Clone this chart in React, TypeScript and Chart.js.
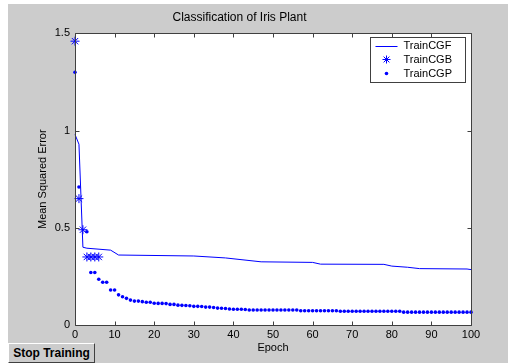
import React, { useEffect, useRef } from "react";
import { Chart, registerables } from "chart.js";

Chart.register(...registerables);

const chartTitle = "Classification of Iris Plant";
const xTitle = "Epoch";
const yTitle = "Mean Squared Error";

const seriesLabels = ["TrainCGF", "TrainCGB", "TrainCGP"];

// TrainCGF: line breakpoints (epoch, mse)
const epochsCGF = [0, 1, 2, 3, 9, 11, 30, 38, 47, 60, 62, 78, 80, 84, 87, 99, 100];
const valuesCGF = [0.98, 0.93, 0.4, 0.395, 0.385, 0.36, 0.355, 0.345, 0.325, 0.322, 0.313, 0.312, 0.303, 0.297, 0.29, 0.288, 0.285];

// TrainCGB: asterisks
const epochsCGB = [0, 1, 2, 3, 4, 5, 6];
const valuesCGB = [1.46, 0.65, 0.49, 0.35, 0.35, 0.35, 0.35];

// TrainCGP: dots, one per epoch 0..100 (index = epoch)
const valuesCGP: (number | null)[] = [
  1.3, 0.71, null, 0.48, 0.27, 0.27, 0.235, 0.22, 0.22, 0.18,
  0.18, 0.155, 0.145, 0.137, 0.128, 0.123, 0.123, 0.12, 0.117, 0.117,
  0.112, 0.111, 0.111, 0.11, 0.106, 0.106, 0.102, 0.101, 0.1, 0.099,
  0.096, 0.096, 0.095, 0.092, 0.092, 0.09, 0.087, 0.086, 0.085, 0.082,
  0.081, 0.081, 0.081, 0.08, 0.077, 0.077, 0.077, 0.077, 0.077, 0.077,
  0.077, 0.077, 0.077, 0.077, 0.077, 0.077, 0.077, 0.073, 0.073, 0.073,
  0.073, 0.073, 0.073, 0.073, 0.073, 0.073, 0.073, 0.071, 0.071, 0.071,
  0.071, 0.071, 0.071, 0.071, 0.071, 0.071, 0.071, 0.071, 0.071, 0.071,
  0.071, 0.071, 0.071, 0.066, 0.066, 0.066, 0.066, 0.066, 0.066, 0.066,
  0.066, 0.066, 0.066, 0.066, 0.066, 0.066, 0.066, 0.066, 0.066, 0.066,
  0.066,
];

const xMin = 0;
const xMax = 100;
const xStep = 10;
const yMin = 0;
const yMax = 1.5;
const yStep = 0.5;

const BLUE = "rgb(0,0,255)";
const FONT = "'Liberation Sans', Arial, sans-serif";

function drawStar(ctx: CanvasRenderingContext2D, x: number, y: number, r: number) {
  ctx.beginPath();
  ctx.moveTo(x - r, y);
  ctx.lineTo(x + r, y);
  ctx.moveTo(x, y - r);
  ctx.lineTo(x, y + r);
  const d = r * 0.72;
  ctx.moveTo(x - d, y - d);
  ctx.lineTo(x + d, y + d);
  ctx.moveTo(x - d, y + d);
  ctx.lineTo(x + d, y - d);
  ctx.stroke();
}

const framePlugin = {
  id: "matlabFrame",
  beforeDatasetsDraw(chart: any) {
    const { ctx, chartArea: ca } = chart;
    ctx.save();
    ctx.fillStyle = "#ffffff";
    ctx.fillRect(ca.left, ca.top, ca.right - ca.left, ca.bottom - ca.top);
    ctx.restore();
  },
  afterDatasetsDraw(chart: any) {
    const { ctx, chartArea: ca } = chart;
    const xs = chart.scales.x;
    const ys = chart.scales.y;
    ctx.save();
    ctx.strokeStyle = "#404040";
    ctx.lineWidth = 1;
    const L = Math.round(ca.left) + 0.5;
    const R = Math.round(ca.right) + 0.5;
    const T = Math.round(ca.top) + 0.5;
    const B = Math.round(ca.bottom) + 0.5;
    ctx.beginPath();
    ctx.rect(L, T, R - L, B - T);
    ctx.stroke();
    const tl = 4;
    ctx.beginPath();
    xs.ticks.forEach((t: any) => {
      const px = Math.round(xs.getPixelForValue(t.value)) + 0.5;
      ctx.moveTo(px, B);
      ctx.lineTo(px, B - tl);
      ctx.moveTo(px, T);
      ctx.lineTo(px, T + tl);
    });
    ys.ticks.forEach((t: any) => {
      const py = Math.round(ys.getPixelForValue(t.value)) + 0.5;
      ctx.moveTo(L, py);
      ctx.lineTo(L + tl, py);
      ctx.moveTo(R, py);
      ctx.lineTo(R - tl, py);
    });
    ctx.stroke();
    ctx.restore();
  },
  afterDraw(chart: any) {
    const { ctx, chartArea: ca } = chart;
    const w = 95;
    const h = 45;
    const bx = Math.round(ca.right - 6 - w) + 0.5;
    const by = Math.round(ca.top + 4) + 0.5;
    ctx.save();
    ctx.fillStyle = "#ffffff";
    ctx.fillRect(bx, by, w, h);
    ctx.strokeStyle = "#404040";
    ctx.lineWidth = 1;
    ctx.strokeRect(bx, by, w, h);
    ctx.font = `11px ${FONT}`;
    ctx.textBaseline = "middle";
    ctx.textAlign = "left";
    const rows = [8, 22, 36];
    chart.data.datasets.forEach((ds: any, i: number) => {
      const ry = by + rows[i];
      const cx = bx + 16;
      ctx.strokeStyle = BLUE;
      ctx.fillStyle = BLUE;
      if (i === 0) {
        ctx.beginPath();
        ctx.moveTo(bx + 5, Math.round(ry) + 0.5);
        ctx.lineTo(bx + 27, Math.round(ry) + 0.5);
        ctx.lineWidth = 1;
        ctx.stroke();
      } else if (i === 1) {
        ctx.lineWidth = 1;
        drawStar(ctx, cx, ry, 4);
      } else {
        ctx.beginPath();
        ctx.arc(cx, ry, 1.8, 0, Math.PI * 2);
        ctx.fill();
      }
      ctx.fillStyle = "#000000";
      ctx.fillText(ds.label, bx + 33, ry);
    });
    ctx.restore();
  },
};

export default function App() {
  const canvasRef = useRef<HTMLCanvasElement | null>(null);

  useEffect(() => {
    if (!canvasRef.current) return;
    Chart.defaults.font.family = FONT;
    Chart.defaults.color = "#000000";
    const chart = new Chart(canvasRef.current, {
      type: "scatter",
      data: {
        datasets: [
          {
            label: seriesLabels[0],
            data: epochsCGF.map((x, i) => ({ x, y: valuesCGF[i] })),
            showLine: true,
            borderColor: BLUE,
            backgroundColor: BLUE,
            borderWidth: 1,
            pointRadius: 0,
            tension: 0,
            clip: false,
          },
          {
            label: seriesLabels[1],
            data: epochsCGB.map((x, i) => ({ x, y: valuesCGB[i] })),
            showLine: false,
            pointStyle: "star",
            pointRadius: 4.5,
            borderColor: BLUE,
            backgroundColor: BLUE,
            pointBorderWidth: 1,
            clip: false,
          },
          {
            label: seriesLabels[2],
            data: valuesCGP
              .map((y, x) => ({ x, y }))
              .filter((p) => p.y !== null) as any,
            showLine: false,
            pointStyle: "circle",
            pointRadius: 1.8,
            borderWidth: 0,
            pointBorderWidth: 0,
            borderColor: BLUE,
            backgroundColor: BLUE,
            clip: false,
          },
        ],
      },
      options: {
        responsive: false,
        animation: false,
        devicePixelRatio: 1,
        layout: { padding: { left: 0, right: 37, top: 0, bottom: 0 } },
        plugins: {
          legend: { display: false },
          tooltip: { enabled: false },
          title: {
            display: true,
            text: chartTitle,
            color: "#000000",
            font: { size: 12, weight: "normal", family: FONT },
            padding: { top: 6, bottom: 9 },
          },
        },
        scales: {
          x: {
            type: "linear",
            min: xMin,
            max: xMax,
            grid: { display: false, drawTicks: false },
            border: { display: false },
            ticks: { stepSize: xStep, padding: 3, font: { size: 11 }, color: "#000000", maxRotation: 0 },
            title: {
              display: true,
              text: xTitle,
              font: { size: 11 },
              color: "#000000",
              padding: { top: 0, bottom: 8 },
            },
            afterFit: (s: any) => {
              s.height = 38;
            },
          },
          y: {
            type: "linear",
            min: yMin,
            max: yMax,
            grid: { display: false, drawTicks: false },
            border: { display: false },
            ticks: {
              stepSize: yStep,
              padding: 5,
              font: { size: 11 },
              color: "#000000",
              callback: (v: any) => String(Number(v)),
            },
            title: {
              display: true,
              text: yTitle,
              font: { size: 11 },
              color: "#000000",
              padding: { top: 28, bottom: 0 },
            },
            afterFit: (s: any) => {
              s.width = 67;
            },
          },
        },
      },
      plugins: [framePlugin],
    });
    return () => chart.destroy();
  }, []);

  return (
    <div
      style={{
        position: "absolute",
        left: 8,
        top: 4,
        width: 500,
        height: 359,
        background: "#cccccc",
        overflow: "hidden",
      }}
    >
      <canvas ref={canvasRef} width={500} height={359} style={{ display: "block", width: 500, height: 359 }} />
      <button
        style={{
          position: "absolute",
          left: 0,
          top: 339,
          width: 87,
          height: 20,
          padding: 0,
          margin: 0,
          font: `bold 12px ${FONT}`,
          color: "#000000",
          background: "#cccccc",
          borderTop: "1px solid #ffffff",
          borderLeft: "1px solid #ffffff",
          borderRight: "1px solid #404040",
          borderBottom: "1px solid #404040",
          boxSizing: "border-box",
          textAlign: "center",
        }}
      >
        Stop Training
      </button>
    </div>
  );
}
